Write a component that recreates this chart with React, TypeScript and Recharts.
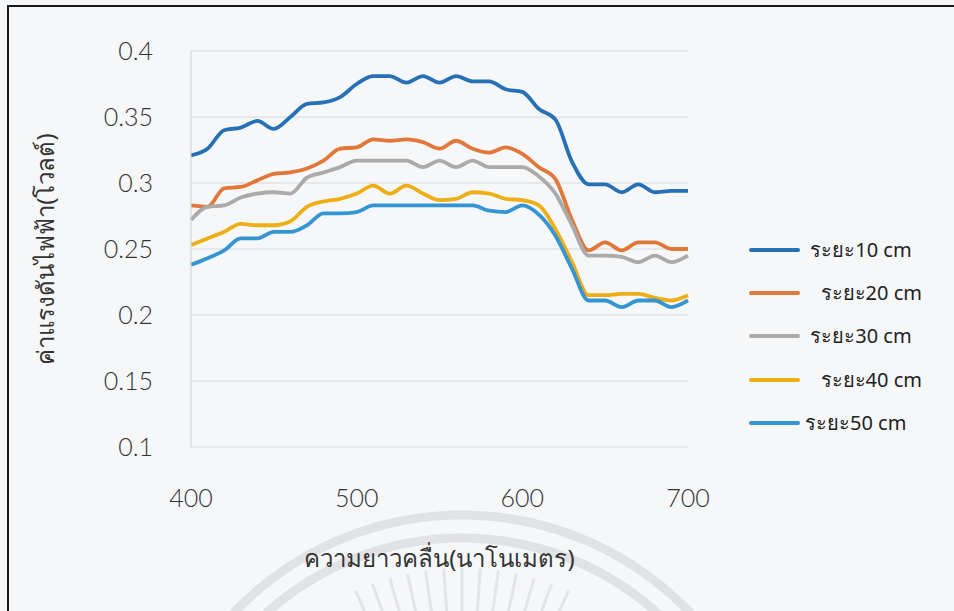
import { CartesianGrid, Line, LineChart, XAxis, YAxis } from "recharts";

const wavelengths = [400, 410, 420, 430, 440, 450, 460, 470, 480, 490, 500, 510, 520, 530, 540, 550, 560, 570, 580, 590, 600, 610, 620, 630, 640, 650, 660, 670, 680, 690, 700];

const dist10 = [0.321, 0.326, 0.34, 0.342, 0.347, 0.341, 0.35, 0.36, 0.361, 0.365, 0.375, 0.381, 0.381, 0.376, 0.381, 0.376, 0.381, 0.377, 0.377, 0.371, 0.369, 0.356, 0.348, 0.316, 0.299, 0.299, 0.293, 0.299, 0.293, 0.294, 0.294];
const dist20 = [0.283, 0.282, 0.296, 0.297, 0.302, 0.307, 0.308, 0.311, 0.317, 0.326, 0.327, 0.333, 0.332, 0.333, 0.331, 0.326, 0.332, 0.326, 0.323, 0.327, 0.322, 0.312, 0.303, 0.272, 0.249, 0.255, 0.249, 0.255, 0.255, 0.25, 0.25];
const dist30 = [0.272, 0.282, 0.283, 0.289, 0.292, 0.293, 0.292, 0.304, 0.308, 0.312, 0.317, 0.317, 0.317, 0.317, 0.312, 0.317, 0.312, 0.317, 0.312, 0.312, 0.312, 0.305, 0.292, 0.268, 0.245, 0.245, 0.244, 0.24, 0.245, 0.24, 0.245];
const dist40 = [0.253, 0.258, 0.263, 0.269, 0.268, 0.268, 0.271, 0.282, 0.286, 0.288, 0.292, 0.298, 0.292, 0.298, 0.292, 0.287, 0.288, 0.293, 0.292, 0.288, 0.287, 0.283, 0.265, 0.24, 0.215, 0.215, 0.216, 0.216, 0.213, 0.211, 0.215];
const dist50 = [0.238, 0.243, 0.249, 0.258, 0.258, 0.263, 0.263, 0.268, 0.277, 0.277, 0.278, 0.283, 0.283, 0.283, 0.283, 0.283, 0.283, 0.283, 0.279, 0.278, 0.283, 0.276, 0.26, 0.235, 0.211, 0.211, 0.206, 0.211, 0.211, 0.206, 0.211];

const seriesKeys = ["d10", "d20", "d30", "d40", "d50"];
const seriesNames = [" ระยะ10 cm", "   ระยะ20 cm", " ระยะ30 cm", "   ระยะ40 cm", "ระยะ50 cm"];
const seriesColors = ["#2670b5", "#e2773a", "#aaaaaa", "#eeae16", "#3595d3"];

const xTicks = [400, 500, 600, 700];
const yTicks = [0.1, 0.15, 0.2, 0.25, 0.3, 0.35, 0.4];

const allSeries = [dist10, dist20, dist30, dist40, dist50];
const rows = wavelengths.map((w, i) => {
  const row: Record<string, number> = { w };
  seriesKeys.forEach((k, s) => {
    row[k] = allSeries[s][i];
  });
  return row;
});

const font = '"Noto Sans", "Open Sans", sans-serif';
const tickFont = { fontSize: 25, fill: "#333", fontFamily: '"Lato", "Noto Sans", sans-serif', fontWeight: 300 };

// faint seal watermark behind the scan
function Watermark() {
  const cx = 462;
  const cy = 830;
  const rays = [-114, -110, -106, -102, -98, -94, -90, -86, -82, -78, -74, -70, -66];
  return (
    <svg width={954} height={611} style={{ position: "absolute", left: 0, top: 0 }}>
      <circle cx={cx} cy={cy} r={315} fill="none" stroke="#e1e2e4" strokeWidth={9} />
      <circle cx={cx} cy={cy} r={292} fill="none" stroke="#e1e2e4" strokeWidth={9} />
      {rays.map((a) => {
        const t = (a * Math.PI) / 180;
        return (
          <line
            key={a}
            x1={cx + 212 * Math.cos(t)}
            y1={cy + 212 * Math.sin(t)}
            x2={cx + 262 * Math.cos(t)}
            y2={cy + 262 * Math.sin(t)}
            stroke="#e3e4e6"
            strokeWidth={3}
          />
        );
      })}
    </svg>
  );
}

export default function App() {
  return (
    <div style={{ position: "absolute", left: 0, top: 0, width: 954, height: 611, background: "#f6f7f9", overflow: "hidden", fontFamily: font }}>
      <Watermark />
      <div style={{ position: "absolute", left: 7, top: 5, width: 960, height: 620, borderTop: "2px solid #1a1a1a", borderLeft: "2px solid #1a1a1a" }} />
      <div style={{ position: "absolute", left: 0, top: 0 }}>
        <LineChart width={954} height={611} data={rows} margin={{ top: 51, right: 266, bottom: 0, left: 0 }}>
          <CartesianGrid stroke="#d6d7d9" vertical={false} />
          <XAxis
            dataKey="w"
            type="number"
            domain={[400, 700]}
            ticks={xTicks}
            height={164}
            axisLine={false}
            tickLine={false}
            tickSize={0}
            tickMargin={42}
            tick={tickFont}
            label={{ value: "ความยาวคลื่น(นาโนเมตร)", position: "center", dy: 29, style: { fontSize: 24, fill: "#333" } }}
          />
          <YAxis
            domain={[0.1, 0.4]}
            ticks={yTicks}
            width={191}
            axisLine={{ stroke: "#cfd0d2" }}
            tickLine={false}
            tickSize={0}
            tickMargin={38}
            tick={tickFont}
            tickFormatter={(v: number) => String(v)}
            label={{ value: "ค่าแรงดันไฟฟ้า(โวลต์)", angle: -90, position: "center", dx: -50, style: { fontSize: 24, fill: "#333" } }}
          />
          {seriesKeys.map((k, s) => (
            <Line
              key={k}
              dataKey={k}
              name={seriesNames[s]}
              type="monotone"
              stroke={seriesColors[s]}
              strokeWidth={3.8}
              dot={false}
              isAnimationActive={false}
            />
          ))}
        </LineChart>
      </div>
      <div style={{ position: "absolute", left: 749, top: 228 }}>
        {seriesKeys.map((k, s) => (
          <div key={k} style={{ display: "flex", alignItems: "center", height: 43.3 }}>
            <span style={{ display: "inline-block", width: 51, height: 4, borderRadius: 2, background: seriesColors[s] }} />
            <span style={{ marginLeft: 5, whiteSpace: "pre", fontSize: 20, color: "#222" }}>{seriesNames[s]}</span>
          </div>
        ))}
      </div>
    </div>
  );
}
